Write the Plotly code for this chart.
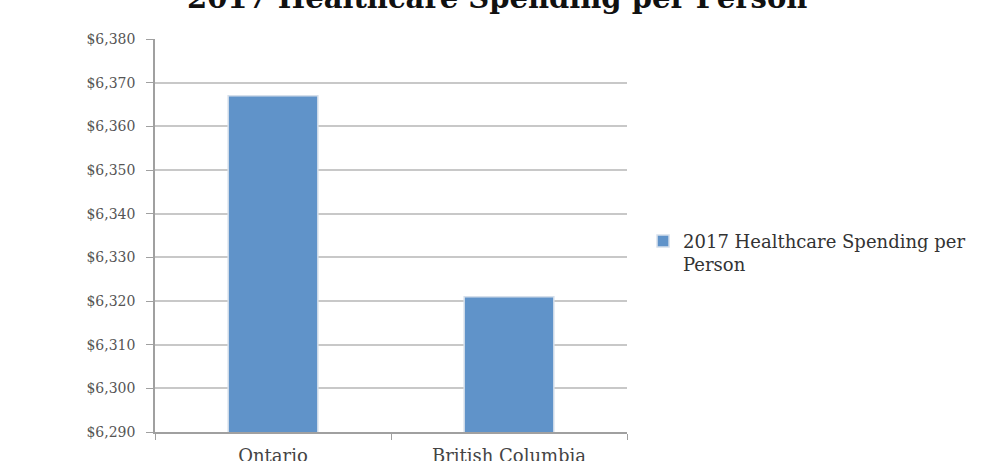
import plotly.graph_objects as go

categories = ["Ontario", "British Columbia"]
values = [6367, 6321]
series_name = "2017 Healthcare Spending per<br>Person"
title_text = "2017 Healthcare Spending per Person"
y_ticks = [6290, 6300, 6310, 6320, 6330, 6340, 6350, 6360, 6370, 6380]
y_tick_labels = ["$6,290", "$6,300", "$6,310", "$6,320", "$6,330",
                 "$6,340", "$6,350", "$6,360", "$6,370", "$6,380"]

fig = go.Figure()
fig.add_trace(go.Bar(
    x=categories, y=values, name=series_name,
    marker=dict(color="#6093c9", line=dict(color="#d5dfeb", width=1.5)),
    showlegend=True,
))

fig.update_layout(
    width=989, height=461,
    margin=dict(l=155, r=362, t=39, b=29),
    paper_bgcolor="white", plot_bgcolor="white",
    bargap=0.62,
    showlegend=True,
    legend=dict(
        x=1.034, y=0.456, xanchor="left", yanchor="middle",
        font=dict(family="DejaVu Serif", size=18, color="#333333"),
        itemwidth=30, valign="top",
    ),
    annotations=[dict(
        text="<b>" + title_text + "</b>",
        xref="paper", yref="paper", x=0.725, y=1,
        xanchor="center", yanchor="middle", yshift=41, showarrow=False,
        font=dict(family="DejaVu Serif", size=29, color="#111111"),
    )],
)

fig.update_yaxes(
    range=[6290, 6380], tickvals=y_ticks, ticktext=y_tick_labels,
    showgrid=True, gridcolor="#c8c8c8", gridwidth=2,
    showline=True, linecolor="#a0a0a0", linewidth=1.5,
    ticks="outside", ticklen=7, tickcolor="#a0a0a0",
    tickfont=dict(family="DejaVu Serif", size=14, color="#555555"),
    ticklabelstandoff=8, automargin=False,
    zeroline=False,
)
fig.update_xaxes(
    showline=True, linecolor="#a0a0a0", linewidth=1.5,
    ticks="outside", tickson="boundaries", ticklen=6, tickcolor="#a0a0a0",
    tickfont=dict(family="DejaVu Serif", size=18, color="#444444"),
    ticklabelstandoff=7, automargin=False,
)

fig.write_html("out.html")
